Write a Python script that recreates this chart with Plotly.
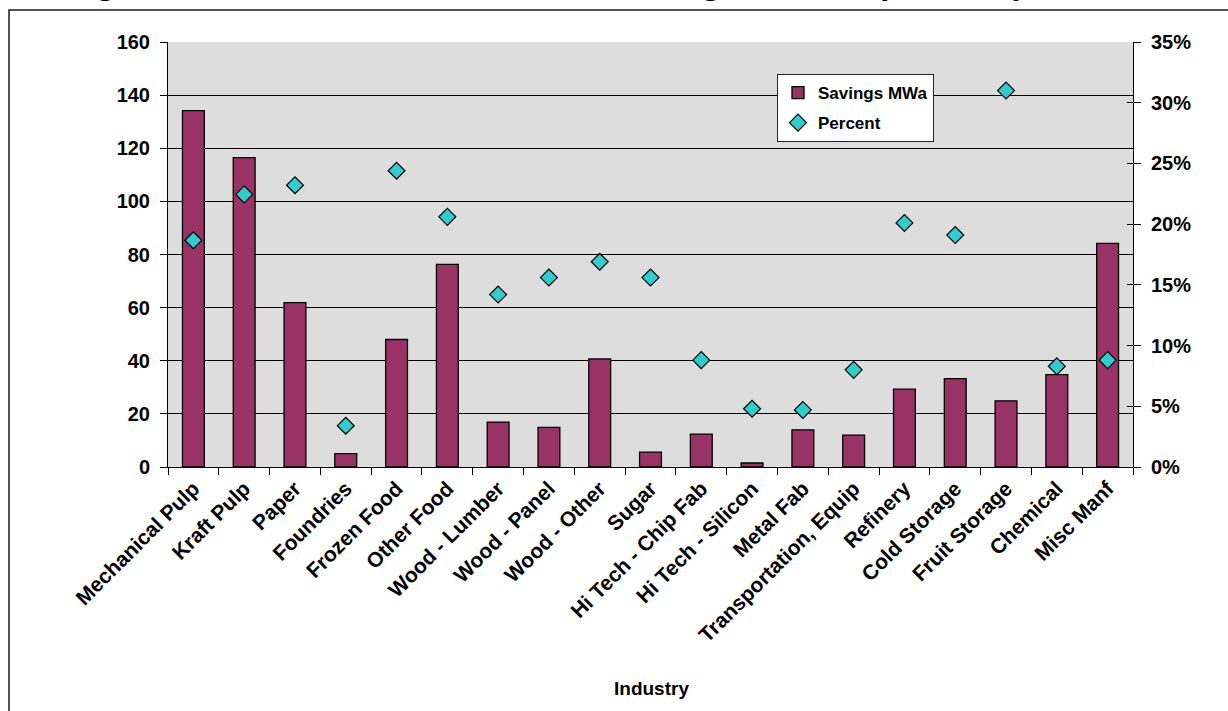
import plotly.graph_objects as go

categories = ["Mechanical Pulp", "Kraft Pulp", "Paper", "Foundries", "Frozen Food",
              "Other Food", "Wood - Lumber", "Wood - Panel", "Wood - Other", "Sugar",
              "Hi Tech - Chip Fab", "Hi Tech - Silicon", "Metal Fab", "Transportation, Equip",
              "Refinery", "Cold Storage", "Fruit Storage", "Chemical", "Misc Manf"]
savings_mwa = [134.2, 116.5, 61.9, 5.0, 48.0, 76.3, 16.9, 14.9, 40.7, 5.6,
               12.4, 1.5, 14.0, 12.0, 29.3, 33.3, 24.9, 34.8, 84.2]
percent = [0.1867, 0.2245, 0.232, 0.034, 0.244, 0.206, 0.142, 0.156, 0.169, 0.156,
           0.088, 0.048, 0.047, 0.080, 0.201, 0.191, 0.310, 0.083, 0.088]
left_ticks = [0, 20, 40, 60, 80, 100, 120, 140, 160]
right_ticks = [0, 0.05, 0.10, 0.15, 0.20, 0.25, 0.30, 0.35]

W, H = 1228, 711
ML, MR, MT, MB = 168, 95, 42, 244
PW = W - ML - MR
PH = H - MT - MB


def px_x(x):
    return (x - ML) / PW


def px_y(y):
    return (H - MB - y) / PH


FONT = "Liberation Sans, Arial, sans-serif"

fig = go.Figure()
fig.add_trace(go.Bar(
    x=categories, y=savings_mwa, name="Savings MWa",
    marker=dict(color="#993366", line=dict(color="#000000", width=1.3)),
    yaxis="y", legendgroup="a",
))
fig.add_trace(go.Scatter(
    x=categories, y=percent, name="Percent", mode="markers",
    marker=dict(symbol="diamond", size=13, color="#33CCCC",
                line=dict(color="#000000", width=1.2)),
    yaxis="y2", legendgroup="b",
))
# invisible trace so the inner tick axis is drawn
fig.add_trace(go.Scatter(x=[categories[0]], y=[0], yaxis="y3", mode="markers",
                         marker=dict(opacity=0, size=1), showlegend=False, hoverinfo="skip"))

fig.update_layout(
    width=W, height=H,
    margin=dict(l=ML, r=MR, t=MT, b=MB, autoexpand=False),
    paper_bgcolor="#FFFFFF",
    plot_bgcolor="#DDDDDD",
    bargap=0.57,
    showlegend=True,
    font=dict(family=FONT, color="#000000", weight="bold"),
    legend=dict(
        x=px_x(777), y=px_y(74), xanchor="left", yanchor="top",
        bgcolor="#FFFFFF", bordercolor="#222222", borderwidth=1,
        font=dict(family=FONT, size=17, color="#000000", weight="bold"),
        traceorder="grouped", tracegroupgap=5,
        itemwidth=30,
    ),
    xaxis=dict(
        type="category", range=[-0.5, len(categories) - 0.5],
        tickangle=-45, tickson="boundaries",
        ticks="outside", ticklen=7, tickcolor="#000000", tickwidth=1,
        showline=True, linecolor="#000000", linewidth=1,
        showgrid=False, zeroline=False,
        tickfont=dict(family=FONT, size=21, color="#000000", weight="bold"),
        automargin=False,
    ),
    yaxis=dict(
        range=[0, 160], tickvals=left_ticks,
        ticks="outside", ticklen=7, tickcolor="#000000", tickwidth=1,
        showline=True, linecolor="#000000", linewidth=1,
        showgrid=True, gridcolor="#000000", gridwidth=1,
        zeroline=False, ticklabelstandoff=6,
        tickfont=dict(family=FONT, size=20, color="#000000", weight="bold"),
        automargin=False,
    ),
    yaxis2=dict(
        range=[0, 0.35], tickvals=right_ticks, tickformat=".0%",
        overlaying="y", side="right", anchor="x",
        ticks="outside", ticklen=7, tickcolor="#000000", tickwidth=1,
        showline=True, linecolor="#000000", linewidth=1,
        showgrid=False, zeroline=False, ticklabelstandoff=6,
        tickfont=dict(family=FONT, size=20, color="#000000", weight="bold"),
        automargin=False,
    ),
    yaxis3=dict(
        range=[0, 0.35], tickvals=right_ticks, overlaying="y", side="right", anchor="x",
        ticks="inside", ticklen=6, tickcolor="#000000", tickwidth=1,
        showticklabels=False, showgrid=False, zeroline=False, showline=False,
    ),
)

# x-axis title
fig.add_annotation(text="Industry", xref="paper", yref="paper",
                   x=px_x(651), y=px_y(688), xanchor="center", yanchor="middle",
                   showarrow=False,
                   font=dict(family=FONT, size=19, color="#000000", weight="bold"))

# cropped figure caption at the very top
fig.add_annotation(text="Figure 4: Total Technical Conservation Savings in MWa by Industry",
                   xref="paper", yref="paper", x=px_x(66), y=px_y(3),
                   xanchor="left", yanchor="bottom", showarrow=False,
                   font=dict(family="Liberation Serif, Times New Roman, serif", size=33,
                             color="#000000", weight="bold"))

# chart-area frame
fig.add_shape(type="rect", xref="paper", yref="paper",
              x0=px_x(9), x1=px_x(1300), y0=px_y(10), y1=px_y(800),
              line=dict(color="#1a1a1a", width=1.5), fillcolor="rgba(0,0,0,0)", layer="above")

fig.write_html("out.html")
